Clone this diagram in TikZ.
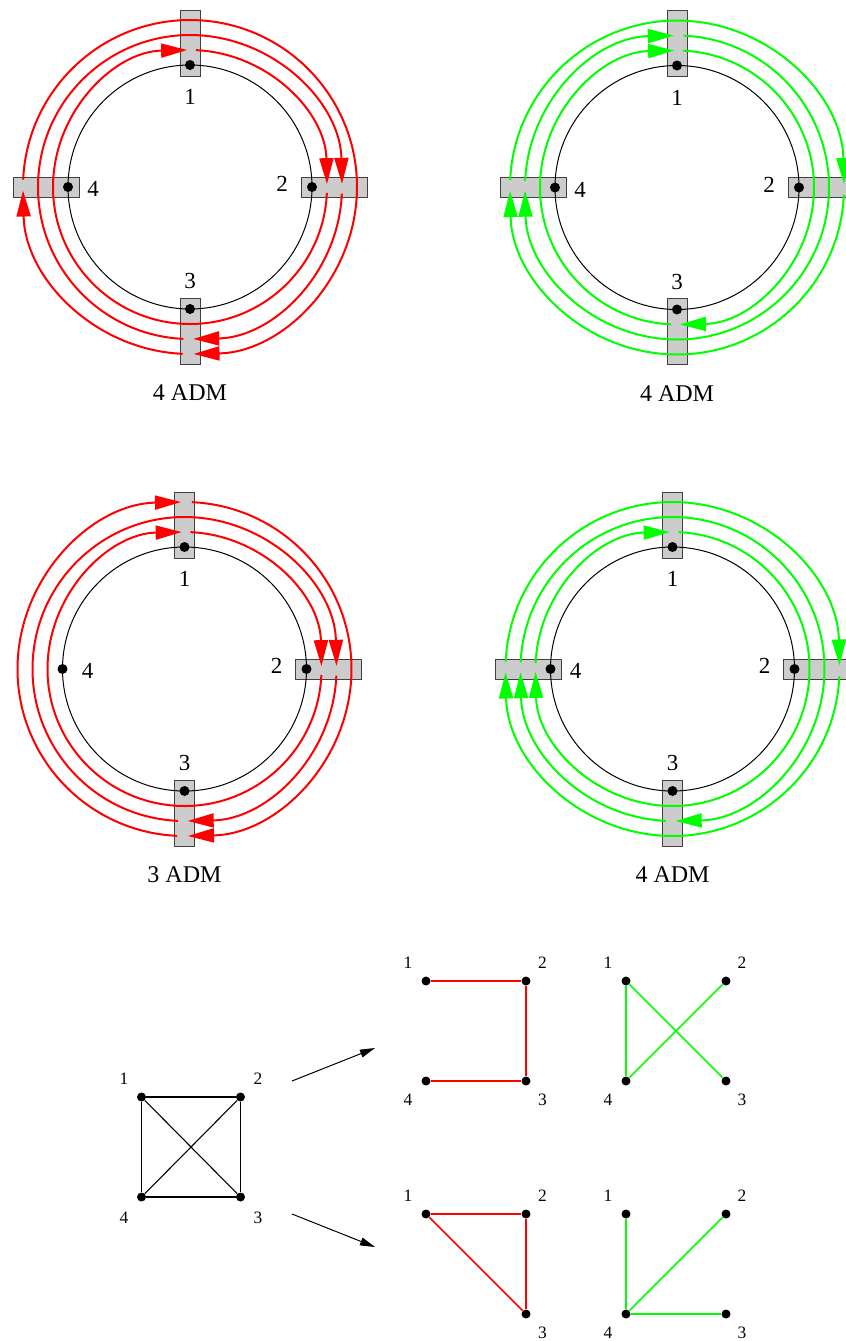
\documentclass[tikz,border=0pt]{standalone}
\usepackage{fontspec}
\setmainfont{Liberation Serif}
\usetikzlibrary{arrows.meta,calc}
\definecolor{xred}{RGB}{255,0,0}
\definecolor{xgreen}{RGB}{0,255,0}
\definecolor{admgray}{RGB}{204,204,204}
\newcommand\lpath[5]{%
  \pgfmathsetmacro\lpS{#3-2.5}%
  \pgfmathsetmacro\lpE{#4+1.2}%
  \draw[lp,#5] ($(#1)+(\lpS:#2)$) arc[start angle=\lpS,end angle=\lpE,radius=#2];}
\begin{document}
\begin{tikzpicture}[x=0.5pt,y=0.5pt,
  lp/.style={line width=1pt,-{Triangle[length=13pt,width=7pt]}},
  ringline/.style={line width=0.5pt,black},
  admbox/.style={draw=black!75,line width=0.5pt,fill=admgray,minimum width=33pt,minimum height=10pt,inner sep=0pt,outer sep=0pt},
  rdot/.style={circle,fill=black,minimum size=5pt,inner sep=0pt},
  gdot/.style={circle,fill=black,minimum size=4.5pt,inner sep=0pt},
  rlab/.style={font=\fontsize{11.5}{13}\selectfont,inner sep=0pt},
  glab/.style={font=\fontsize{8.7}{10}\selectfont,inner sep=0pt},
  captext/.style={font=\fontsize{12}{14}\selectfont,inner sep=0pt},
  redge/.style={xred,line width=0.85pt},
  gedge/.style={xgreen,line width=0.85pt},
  kedge/.style={black,line width=0.55pt},
  bigarrow/.style={black,line width=0.5pt,-{Triangle[length=7.5pt,width=4pt]}}]
\useasboundingbox (0,0) rectangle (846,-1341);

% ---------- ring centres
\coordinate (TL) at (190,-187);
\coordinate (TR) at (677,-187.5);
\coordinate (BL) at (184.5,-669);
\coordinate (BR) at (672.5,-669);

% ---------- ADM boxes
\foreach \r in {TL,TR,BR}{
  \foreach \n/\a in {1/90,2/0,3/-90,4/180}{
    \node[admbox,rotate=\a] (\r-a\n) at ($(\r)+(\a:144)$) {};}}
\foreach \n/\a in {1/90,2/0,3/-90}{
  \node[admbox,rotate=\a] (BL-a\n) at ($(BL)+(\a:144)$) {};}

% ---------- rings, dots, labels
\foreach \r in {TL,TR,BL,BR}{
  \draw[ringline] (\r) circle[radius=122];
  \foreach \n/\a in {1/90,2/0,3/-90,4/180}{
    \node[rdot] (\r-n\n) at ($(\r)+(\a:122)$) {};}
  \node[rlab] (\r-l1) at ($(\r)+(0,90)$) {1};
  \node[rlab] (\r-l2) at ($(\r)+(92,3)$) {2};
  \node[rlab] (\r-l3) at ($(\r)+(0,-94)$) {3};
  \node[rlab] (\r-l4) at ($(\r)+(-97,-2)$) {4};
}
\node[captext] (TL-c) at ($(TL)+(0,-206)$) {4 ADM};
\node[captext] (TR-c) at ($(TR)+(0,-206)$) {4 ADM};
\node[captext] (BL-c) at ($(BL)+(0,-206)$) {3 ADM};
\node[captext] (BR-c) at ($(BR)+(0,-206)$) {4 ADM};

% ---------- lightpaths, top left
\lpath{TL}{137}{90}{0}{xred}
\lpath{TL}{137}{0}{-270}{xred}
\lpath{TL}{152}{-90}{-360}{xred}
\lpath{TL}{152}{0}{-90}{xred}
\lpath{TL}{167}{-90}{-180}{xred}
\lpath{TL}{167}{-180}{-450}{xred}
% top right
\lpath{TR}{137}{90}{-90}{xgreen}
\lpath{TR}{137}{-90}{-270}{xgreen}
\lpath{TR}{152}{180}{90}{xgreen}
\lpath{TR}{152}{90}{-180}{xgreen}
\lpath{TR}{167}{180}{0}{xgreen}
\lpath{TR}{167}{0}{-180}{xgreen}
% bottom left
\lpath{BL}{137}{0}{-270}{xred}
\lpath{BL}{137}{90}{0}{xred}
\lpath{BL}{152}{-90}{-360}{xred}
\lpath{BL}{152}{0}{-90}{xred}
\lpath{BL}{167}{-90}{-270}{xred}
\lpath{BL}{167}{90}{-90}{xred}
% bottom right
\lpath{BR}{137}{180}{90}{xgreen}
\lpath{BR}{137}{90}{-180}{xgreen}
\lpath{BR}{152}{-90}{-180}{xgreen}
\lpath{BR}{152}{180}{-90}{xgreen}
\lpath{BR}{167}{180}{0}{xgreen}
\lpath{BR}{167}{0}{-180}{xgreen}

% ---------- K4
\node[gdot] (k1) at (141.5,-1097) {};
\node[gdot] (k2) at (240.5,-1097) {};
\node[gdot] (k3) at (240.5,-1197) {};
\node[gdot] (k4) at (141.5,-1197) {};
\node[glab] at (124,-1079) {1};
\node[glab] at (258,-1079) {2};
\node[glab] at (258,-1218) {3};
\node[glab] at (124,-1218) {4};
\draw[kedge] (k1)--(k2)--(k3)--(k4)--(k1);
\draw[kedge] (k1)--(k3);
\draw[kedge] (k2)--(k4);

\coordinate (ar1s) at (292,-1081);
\coordinate (ar1e) at (375,-1048);
\coordinate (ar2s) at (292,-1214);
\coordinate (ar2e) at (375,-1247);
\draw[bigarrow] (ar1s)--(ar1e);
\draw[bigarrow] (ar2s)--(ar2e);

% ---------- small graphs
% A (red, top)
\node[gdot] (A1) at (426,-981) {};
\node[gdot] (A2) at (526,-981) {};
\node[gdot] (A3) at (526,-1081) {};
\node[gdot] (A4) at (426,-1081) {};
\node[glab] at (408,-963) {1};
\node[glab] at (542.5,-963) {2};
\node[glab] at (542.5,-1100) {3};
\node[glab] at (408,-1100) {4};
\draw[redge] (A1)--(A2);
\draw[redge] (A2)--(A3);
\draw[redge] (A3)--(A4);
% B (green, top)
\node[gdot] (B1) at (626,-981) {};
\node[gdot] (B2) at (726,-981) {};
\node[gdot] (B3) at (726,-1081) {};
\node[gdot] (B4) at (626,-1081) {};
\node[glab] at (608,-963) {1};
\node[glab] at (742,-963) {2};
\node[glab] at (742,-1100) {3};
\node[glab] at (608,-1100) {4};
\draw[gedge] (B1)--(B4);
\draw[gedge] (B1)--(B3);
\draw[gedge] (B2)--(B4);
% C (red, bottom)
\node[gdot] (C1) at (426,-1214) {};
\node[gdot] (C2) at (526,-1214) {};
\node[gdot] (C3) at (526,-1314) {};
\node[glab] at (408,-1196) {1};
\node[glab] at (542.5,-1196) {2};
\node[glab] at (542.5,-1333) {3};
\draw[redge] (C1)--(C2);
\draw[redge] (C2)--(C3);
\draw[redge] (C3)--(C1);
% D (green, bottom)
\node[gdot] (D1) at (626,-1214) {};
\node[gdot] (D2) at (726,-1214) {};
\node[gdot] (D3) at (726,-1314) {};
\node[gdot] (D4) at (626,-1314) {};
\node[glab] at (608,-1196) {1};
\node[glab] at (742,-1196) {2};
\node[glab] at (742,-1333) {3};
\node[glab] at (608,-1333) {4};
\draw[gedge] (D1)--(D4);
\draw[gedge] (D4)--(D2);
\draw[gedge] (D4)--(D3);
\end{tikzpicture}
\end{document}
